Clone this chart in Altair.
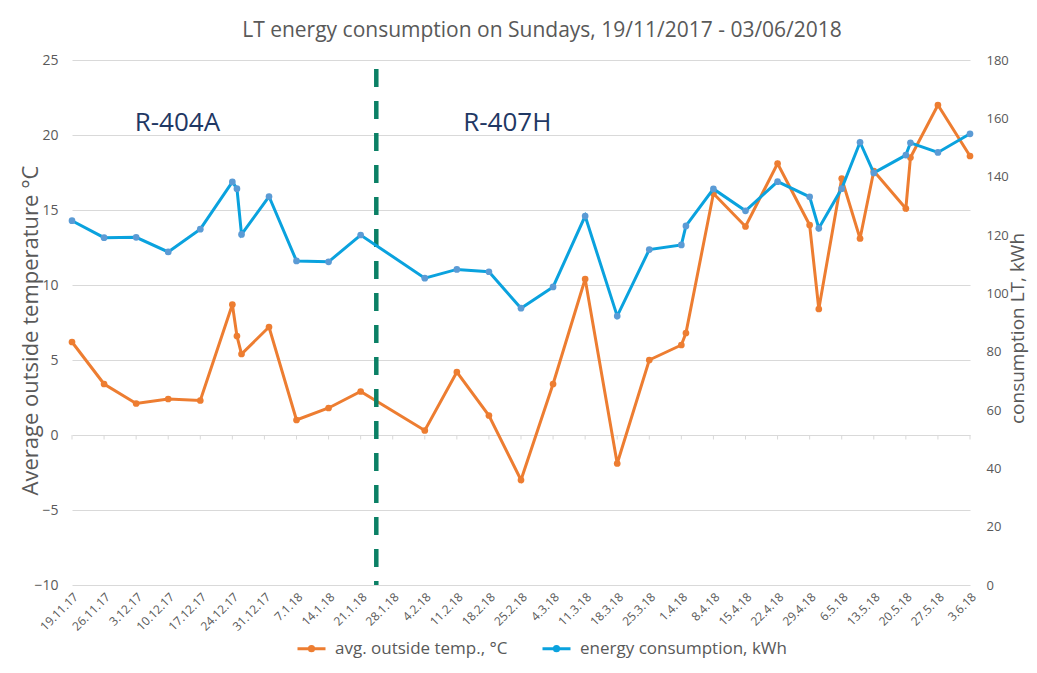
import altair as alt
import pandas as pd

dates = ["2017-11-19", "2017-11-26", "2017-12-03", "2017-12-10", "2017-12-17",
         "2017-12-24", "2017-12-25", "2017-12-26", "2018-01-01", "2018-01-07",
         "2018-01-14", "2018-01-21", "2018-02-04", "2018-02-11", "2018-02-18",
         "2018-02-25", "2018-03-04", "2018-03-11", "2018-03-18", "2018-03-25",
         "2018-04-01", "2018-04-02", "2018-04-08", "2018-04-15", "2018-04-22",
         "2018-04-29", "2018-05-01", "2018-05-06", "2018-05-10", "2018-05-13",
         "2018-05-20", "2018-05-21", "2018-05-27", "2018-06-03"]
temp = [6.2, 3.4, 2.1, 2.4, 2.3, 8.7, 6.6, 5.4, 7.2, 1.0, 1.8, 2.9, 0.3, 4.2, 1.3,
        -3.0, 3.4, 10.4, -1.9, 5.0, 6.0, 6.8, 16.1, 13.9, 18.1, 14.0, 8.4, 17.1,
        13.1, 17.6, 15.1, 18.5, 22.0, 18.6]
energy = [124.9, 119.1, 119.2, 114.2, 122.0, 138.2, 135.9, 120.2, 133.2, 111.1,
          110.8, 120.0, 105.2, 108.2, 107.4, 94.9, 102.2, 126.5, 92.2, 115.0,
          116.6, 123.1, 135.8, 128.3, 138.3, 133.1, 122.3, 135.9, 151.8, 141.3,
          147.4, 151.6, 148.3, 154.7]
tick_dates = ["2017-11-19", "2017-11-26", "2017-12-03", "2017-12-10", "2017-12-17",
              "2017-12-24", "2017-12-31", "2018-01-07", "2018-01-14", "2018-01-21",
              "2018-01-28", "2018-02-04", "2018-02-11", "2018-02-18", "2018-02-25",
              "2018-03-04", "2018-03-11", "2018-03-18", "2018-03-25", "2018-04-01",
              "2018-04-08", "2018-04-15", "2018-04-22", "2018-04-29", "2018-05-06",
              "2018-05-13", "2018-05-20", "2018-05-27", "2018-06-03"]
annot_labels = ["R-404A", "R-407H"]
annot_dates = ["2017-12-12T00:00", "2018-02-22T00:00"]
annot_temp = [20.8, 20.8]
switch_date = "2018-01-24T10:00"

TEMP_LABEL = "avg. outside temp., °C"
ENERGY_LABEL = "energy consumption, kWh"
ORANGE = "#ed7d31"
BLUE_LINE = "#0aa2de"
BLUE_PT = "#5b9bd5"
GRAY = "#595959"
FONT = "Open Sans"

df = pd.DataFrame({"date": [d + "T00:00" for d in dates], "temp": temp, "energy": energy})
ticks_df = pd.DataFrame({"date": [d + "T00:00" for d in tick_dates]})
annot_df = pd.DataFrame({"label": annot_labels, "date": annot_dates, "temp": annot_temp})

def dt(s):
    y, m, d = s.split("-")
    return alt.DateTime(year=int(y), month=int(m), date=int(d))

x_dom = alt.Scale(domain=[dt(tick_dates[0]), dt(tick_dates[-1])])
x_axis = alt.Axis(values=[dt(t) for t in tick_dates], format="%-d.%-m.%y", labelAngle=-45,
                  labelFontSize=12, labelColor=GRAY, labelFont=FONT, ticks=False,
                  domain=False, grid=False, labelPadding=6, title=None, labelOverlap=False,
                  labelBound=False, labelFlush=False)
x_enc = alt.X("date:T", scale=x_dom, axis=x_axis)

temp_scale = alt.Scale(domain=[-10, 25], nice=False, zero=False)
temp_axis = alt.Axis(values=[-10, -5, 0, 5, 10, 15, 20, 25], grid=True, gridColor="#d9d9d9",
                     domain=False, ticks=False, labelFontSize=14, labelColor=GRAY, labelFont=FONT,
                     labelPadding=14, title="Average outside temperature °C", titleFontSize=22,
                     titleFont=FONT, titleFontWeight="normal", titleColor=GRAY, titleAngle=270,
                     titleX=-42, titleY=270, titleAlign="center", titleBaseline="middle")
y_temp = alt.Y("temp:Q", scale=temp_scale, axis=temp_axis)

color_scale = alt.Scale(domain=[TEMP_LABEL, ENERGY_LABEL], range=[ORANGE, BLUE_LINE])
legend = alt.Legend(
    title=None, orient="none", legendX=224, legendY=573, direction="horizontal",
    symbolType="M-1,0H1M-0.15,0a0.15,0.15 0 1,0 0.3,0a0.15,0.15 0 1,0 -0.3,0",
    symbolSize=784, symbolStrokeWidth=3, labelFontSize=17, labelColor=GRAY, labelFont=FONT,
    columnPadding=28, labelOffset=8, labelLimit=400,
)

temp_line = alt.Chart(df).transform_calculate(series=f"'{TEMP_LABEL}'").mark_line(
    strokeWidth=3).encode(
    x=x_enc, y=y_temp,
    color=alt.Color("series:N", scale=color_scale, legend=legend),
)
temp_pts = alt.Chart(df).mark_circle(size=45, opacity=1, color=ORANGE).encode(
    x=x_enc, y=y_temp)

axis_ticks = alt.Chart(ticks_df).mark_rule(color="#d9d9d9", strokeWidth=1).encode(
    x=x_enc, y=alt.datum(0, scale=temp_scale), y2=alt.datum(-0.3))

switch_rule = alt.Chart(pd.DataFrame({"date": [switch_date]})).mark_rule(
    color="#0b8065", strokeWidth=4.5, strokeDash=[18, 14]).encode(
    x=x_enc, y=alt.datum(24.4, scale=temp_scale), y2=alt.datum(-10))

annot = alt.Chart(annot_df).mark_text(
    fontSize=26, color="#1f3864", font=FONT, align="center", baseline="middle").encode(
    x=x_enc, y=y_temp, text="label:N")

temp_layer = alt.layer(temp_line, axis_ticks, switch_rule, annot, temp_pts)

energy_scale = alt.Scale(domain=[0, 180], nice=False)
energy_axis = alt.Axis(orient="right", values=list(range(0, 181, 20)), grid=False, domain=False,
                       ticks=False, labelFontSize=13, labelColor=GRAY, labelFont=FONT,
                       labelPadding=16, title="consumption LT, kWh", titleFontSize=19,
                       titleFont=FONT, titleFontWeight="normal", titleColor=GRAY, titleAngle=270,
                       titleX=47, titleY=268, titleAlign="center", titleBaseline="middle")
y_energy = alt.Y("energy:Q", scale=energy_scale, axis=energy_axis)
energy_line = alt.Chart(df).transform_calculate(series=f"'{ENERGY_LABEL}'").mark_line(
    strokeWidth=3).encode(
    x=x_enc, y=y_energy,
    color=alt.Color("series:N", scale=color_scale, legend=legend),
)
energy_pts = alt.Chart(df).mark_circle(size=45, opacity=1, color=BLUE_PT).encode(
    x=x_enc, y=y_energy)
energy_layer = alt.layer(energy_line, energy_pts)

chart = alt.layer(temp_layer, energy_layer).resolve_scale(y="independent").properties(
    width=898, height=525,
    autosize=alt.AutoSizeParams(type="none"),
    padding={"left": 64, "top": 52, "right": 59, "bottom": 80},
    title=alt.TitleParams("LT energy consumption on Sundays, 19/11/2017 - 03/06/2018",
                          fontSize=21, font=FONT, fontWeight="normal", color=GRAY,
                          anchor="middle", dx=21, offset=12),
).configure_view(stroke=None).configure_axisX(labelOverlap=False)

chart.save("out.html", embed_options={"renderer": "svg", "actions": False})
